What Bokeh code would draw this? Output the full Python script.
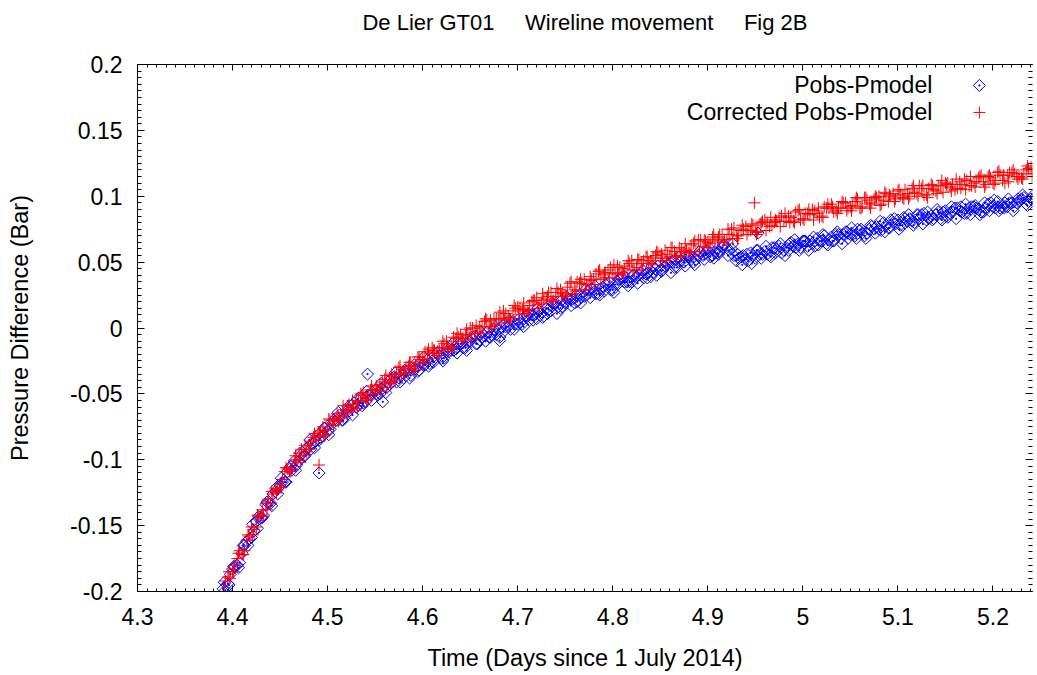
import math
from bokeh.plotting import figure
from bokeh.models import (LinearAxis, SingleIntervalTicker, NumeralTickFormatter, Range1d,
                          Label, CustomLabelingPolicy)
from bokeh.embed import file_html
from bokeh.resources import INLINE

# Sample times (days since 1 July 2014), first pass
time_days = [
    4.390, 4.395, 4.400, 4.405, 4.410, 4.415, 4.420, 4.425, 4.430, 4.435,
    4.440, 4.445, 4.450, 4.455, 4.460, 4.465, 4.470, 4.475, 4.480, 4.485,
    4.490, 4.495, 4.500, 4.505, 4.510, 4.515, 4.520, 4.525, 4.530, 4.535,
    4.540, 4.545, 4.550, 4.555, 4.560, 4.565, 4.570, 4.575, 4.580, 4.585,
    4.590, 4.595, 4.600, 4.605, 4.610, 4.615, 4.620, 4.625, 4.630, 4.635,
    4.640, 4.645, 4.650, 4.655, 4.660, 4.665, 4.670, 4.675, 4.680, 4.685,
    4.690, 4.695, 4.700, 4.705, 4.710, 4.715, 4.720, 4.725, 4.730, 4.735,
    4.740, 4.745, 4.750, 4.755, 4.760, 4.765, 4.770, 4.775, 4.780, 4.785,
    4.790, 4.795, 4.800, 4.805, 4.810, 4.815, 4.820, 4.825, 4.830, 4.835,
    4.840, 4.845, 4.850, 4.855, 4.860, 4.865, 4.870, 4.875, 4.880, 4.885,
    4.890, 4.895, 4.900, 4.905, 4.910, 4.915, 4.920, 4.925, 4.930, 4.935,
    4.940, 4.945, 4.950, 4.955, 4.960, 4.965, 4.970, 4.975, 4.980, 4.985,
    4.990, 4.995, 5.000, 5.005, 5.010, 5.015, 5.020, 5.025, 5.030, 5.035,
    5.040, 5.045, 5.050, 5.055, 5.060, 5.065, 5.070, 5.075, 5.080, 5.085,
    5.090, 5.095, 5.100, 5.105, 5.110, 5.115, 5.120, 5.125, 5.130, 5.135,
    5.140, 5.145, 5.150, 5.155, 5.160, 5.165, 5.170, 5.175, 5.180, 5.185,
    5.190, 5.195, 5.200, 5.205, 5.210, 5.215, 5.220, 5.225, 5.230, 5.235,
    5.240, 5.245,
]

# Pobs - Pmodel (bar) at time_days
pobs_minus_pmodel = [
    -0.198, -0.194, -0.183, -0.180, -0.171, -0.162, -0.159, -0.147, -0.144, -0.134,
    -0.133, -0.124, -0.120, -0.117, -0.107, -0.101, -0.101, -0.097, -0.090, -0.087,
    -0.081, -0.082, -0.078, -0.071, -0.070, -0.070, -0.063, -0.059, -0.060, -0.053,
    -0.056, -0.051, -0.047, -0.050, -0.044, -0.043, -0.037, -0.038, -0.038, -0.032,
    -0.031, -0.033, -0.028, -0.024, -0.025, -0.019, -0.023, -0.018, -0.017, -0.016,
    -0.012, -0.015, -0.010, -0.006, -0.009, -0.006, -0.007, -0.001, -0.001, -0.003,
    0.001, 0.005, 0.003, 0.003, 0.009, 0.010, 0.007, 0.011, 0.015, 0.013,
    0.019, 0.015, 0.019, 0.022, 0.019, 0.025, 0.024, 0.029, 0.027, 0.026,
    0.031, 0.033, 0.029, 0.033, 0.038, 0.035, 0.035, 0.039, 0.042, 0.041,
    0.039, 0.045, 0.044, 0.047, 0.050, 0.046, 0.050, 0.050, 0.054, 0.050,
    0.055, 0.055, 0.059, 0.055, 0.057, 0.061, 0.061, 0.060, 0.051, 0.054,
    0.052, 0.057, 0.053, 0.056, 0.058, 0.055, 0.061, 0.062, 0.059, 0.059,
    0.062, 0.064, 0.066, 0.062, 0.064, 0.068, 0.066, 0.064, 0.069, 0.071,
    0.068, 0.073, 0.071, 0.070, 0.074, 0.070, 0.075, 0.075, 0.075, 0.080,
    0.076, 0.080, 0.082, 0.078, 0.081, 0.081, 0.086, 0.086, 0.082, 0.085,
    0.086, 0.083, 0.089, 0.087, 0.091, 0.089, 0.087, 0.091, 0.092, 0.090,
    0.088, 0.094, 0.092, 0.096, 0.092, 0.092, 0.095, 0.095, 0.098, 0.094,
    0.098, 0.100,
]

# Corrected Pobs - Pmodel (bar) at time_days
corrected_pobs_minus_pmodel = [
    -0.201, -0.189, -0.185, -0.175, -0.172, -0.161, -0.151, -0.151, -0.142, -0.133,
    -0.133, -0.122, -0.119, -0.109, -0.109, -0.101, -0.095, -0.097, -0.089, -0.083,
    -0.083, -0.075, -0.077, -0.070, -0.065, -0.067, -0.062, -0.062, -0.055, -0.050,
    -0.053, -0.047, -0.050, -0.043, -0.039, -0.041, -0.037, -0.030, -0.034, -0.029,
    -0.031, -0.022, -0.024, -0.019, -0.015, -0.019, -0.015, -0.010, -0.014, -0.008,
    -0.005, -0.006, 0.000, -0.004, 0.001, 0.005, 0.000, 0.007, 0.007, 0.013,
    0.008, 0.013, 0.016, 0.014, 0.013, 0.020, 0.023, 0.019, 0.022, 0.027,
    0.024, 0.029, 0.025, 0.034, 0.029, 0.034, 0.037, 0.033, 0.037, 0.043,
    0.038, 0.044, 0.042, 0.047, 0.042, 0.047, 0.051, 0.046, 0.049, 0.054,
    0.051, 0.055, 0.051, 0.059, 0.054, 0.058, 0.061, 0.058, 0.057, 0.064,
    0.067, 0.062, 0.065, 0.069, 0.066, 0.071, 0.067, 0.075, 0.070, 0.074,
    0.077, 0.074, 0.073, 0.079, 0.082, 0.077, 0.080, 0.084, 0.081, 0.085,
    0.081, 0.089, 0.083, 0.087, 0.090, 0.087, 0.085, 0.091, 0.094, 0.089,
    0.091, 0.095, 0.092, 0.096, 0.091, 0.099, 0.094, 0.098, 0.100, 0.097,
    0.096, 0.102, 0.104, 0.099, 0.102, 0.106, 0.102, 0.106, 0.101, 0.109,
    0.104, 0.108, 0.110, 0.107, 0.105, 0.111, 0.113, 0.108, 0.110, 0.114,
    0.111, 0.115, 0.110, 0.118, 0.112, 0.116, 0.118, 0.115, 0.114, 0.120,
    0.122, 0.117,
]

# Second pass of readings
time_days_b = [
    4.3925, 4.3975, 4.4025, 4.4075, 4.4125, 4.4175, 4.4225, 4.4275, 4.4325, 4.4375,
    4.4425, 4.4475, 4.4525, 4.4575, 4.4625, 4.4675, 4.4725, 4.4775, 4.4825, 4.4875,
    4.4925, 4.4975, 4.5025, 4.5075, 4.5125, 4.5175, 4.5225, 4.5275, 4.5325, 4.5375,
    4.5425, 4.5475, 4.5525, 4.5575, 4.5625, 4.5675, 4.5725, 4.5775, 4.5825, 4.5875,
    4.5925, 4.5975, 4.6025, 4.6075, 4.6125, 4.6175, 4.6225, 4.6275, 4.6325, 4.6375,
    4.6425, 4.6475, 4.6525, 4.6575, 4.6625, 4.6675, 4.6725, 4.6775, 4.6825, 4.6875,
    4.6925, 4.6975, 4.7025, 4.7075, 4.7125, 4.7175, 4.7225, 4.7275, 4.7325, 4.7375,
    4.7425, 4.7475, 4.7525, 4.7575, 4.7625, 4.7675, 4.7725, 4.7775, 4.7825, 4.7875,
    4.7925, 4.7975, 4.8025, 4.8075, 4.8125, 4.8175, 4.8225, 4.8275, 4.8325, 4.8375,
    4.8425, 4.8475, 4.8525, 4.8575, 4.8625, 4.8675, 4.8725, 4.8775, 4.8825, 4.8875,
    4.8925, 4.8975, 4.9025, 4.9075, 4.9125, 4.9175, 4.9225, 4.9275, 4.9325, 4.9375,
    4.9425, 4.9475, 4.9525, 4.9575, 4.9625, 4.9675, 4.9725, 4.9775, 4.9825, 4.9875,
    4.9925, 4.9975, 5.0025, 5.0075, 5.0125, 5.0175, 5.0225, 5.0275, 5.0325, 5.0375,
    5.0425, 5.0475, 5.0525, 5.0575, 5.0625, 5.0675, 5.0725, 5.0775, 5.0825, 5.0875,
    5.0925, 5.0975, 5.1025, 5.1075, 5.1125, 5.1175, 5.1225, 5.1275, 5.1325, 5.1375,
    5.1425, 5.1475, 5.1525, 5.1575, 5.1625, 5.1675, 5.1725, 5.1775, 5.1825, 5.1875,
    5.1925, 5.1975, 5.2025, 5.2075, 5.2125, 5.2175, 5.2225, 5.2275, 5.2325, 5.2375,
    5.2425,
]

pobs_minus_pmodel_b = [
    -0.199, -0.187, -0.181, -0.178, -0.165, -0.160, -0.154, -0.143, -0.142, -0.133,
    -0.126, -0.126, -0.117, -0.109, -0.108, -0.104, -0.096, -0.092, -0.092, -0.086,
    -0.083, -0.076, -0.077, -0.071, -0.066, -0.068, -0.063, -0.057, -0.059, -0.057,
    -0.051, -0.049, -0.051, -0.046, -0.045, -0.038, -0.041, -0.036, -0.033, -0.036,
    -0.031, -0.026, -0.028, -0.027, -0.021, -0.021, -0.023, -0.018, -0.017, -0.012,
    -0.015, -0.011, -0.008, -0.012, -0.007, -0.003, -0.005, -0.005, 0.001, 0.001,
    -0.001, 0.003, 0.004, 0.009, 0.006, 0.010, 0.013, 0.009, 0.014, 0.018,
    0.016, 0.016, 0.022, 0.022, 0.020, 0.024, 0.025, 0.030, 0.026, 0.030,
    0.033, 0.029, 0.033, 0.037, 0.035, 0.035, 0.040, 0.040, 0.038, 0.042,
    0.042, 0.047, 0.044, 0.048, 0.050, 0.046, 0.051, 0.055, 0.052, 0.052,
    0.057, 0.057, 0.054, 0.058, 0.058, 0.063, 0.059, 0.055, 0.053, 0.055,
    0.051, 0.055, 0.059, 0.056, 0.056, 0.061, 0.060, 0.057, 0.061, 0.065,
    0.061, 0.061, 0.066, 0.066, 0.062, 0.066, 0.070, 0.067, 0.066, 0.071,
    0.071, 0.068, 0.071, 0.075, 0.072, 0.072, 0.077, 0.077, 0.074, 0.078,
    0.082, 0.079, 0.078, 0.083, 0.083, 0.080, 0.083, 0.087, 0.083, 0.083,
    0.088, 0.088, 0.084, 0.088, 0.091, 0.088, 0.087, 0.092, 0.091, 0.088,
    0.091, 0.095, 0.091, 0.091, 0.095, 0.095, 0.092, 0.096, 0.099, 0.096,
    0.096,
]

corrected_pobs_minus_pmodel_b = [
    -0.192, -0.190, -0.180, -0.169, -0.169, -0.158, -0.153, -0.143, -0.143, -0.130,
    -0.126, -0.123, -0.115, -0.107, -0.107, -0.100, -0.092, -0.094, -0.086, -0.085,
    -0.078, -0.081, -0.070, -0.069, -0.069, -0.064, -0.058, -0.060, -0.056, -0.049,
    -0.054, -0.047, -0.047, -0.041, -0.045, -0.035, -0.035, -0.035, -0.031, -0.026,
    -0.029, -0.024, -0.018, -0.023, -0.017, -0.017, -0.012, -0.016, -0.007, -0.007,
    -0.008, -0.005, 0.000, -0.003, 0.001, 0.006, 0.001, 0.007, 0.007, 0.011,
    0.007, 0.015, 0.015, 0.013, 0.017, 0.021, 0.018, 0.021, 0.027, 0.021,
    0.027, 0.026, 0.031, 0.026, 0.035, 0.034, 0.033, 0.036, 0.041, 0.037,
    0.041, 0.046, 0.041, 0.046, 0.045, 0.049, 0.044, 0.052, 0.051, 0.049,
    0.053, 0.057, 0.053, 0.056, 0.061, 0.055, 0.060, 0.059, 0.063, 0.058,
    0.067, 0.066, 0.064, 0.067, 0.071, 0.067, 0.071, 0.076, 0.070, 0.075,
    0.074, 0.078, 0.073, 0.081, 0.080, 0.078, 0.081, 0.085, 0.081, 0.084,
    0.088, 0.082, 0.087, 0.086, 0.089, 0.084, 0.092, 0.091, 0.088, 0.091,
    0.095, 0.091, 0.093, 0.098, 0.092, 0.097, 0.095, 0.099, 0.094, 0.102,
    0.100, 0.098, 0.101, 0.105, 0.100, 0.103, 0.108, 0.101, 0.106, 0.105,
    0.108, 0.103, 0.110, 0.109, 0.106, 0.109, 0.112, 0.108, 0.111, 0.116,
    0.109, 0.114, 0.112, 0.116, 0.110, 0.118, 0.117, 0.115, 0.117, 0.121,
    0.117,
]

# Third pass of readings
time_days_c = [
    4.39125, 4.39625, 4.40125, 4.40625, 4.41125, 4.41625, 4.42125, 4.42625, 4.43125, 4.43625,
    4.44125, 4.44625, 4.45125, 4.45625, 4.46125, 4.46625, 4.47125, 4.47625, 4.48125, 4.48625,
    4.49125, 4.49625, 4.50125, 4.50625, 4.51125, 4.51625, 4.52125, 4.52625, 4.53125, 4.53625,
    4.54125, 4.54625, 4.55125, 4.55625, 4.56125, 4.56625, 4.57125, 4.57625, 4.58125, 4.58625,
    4.59125, 4.59625, 4.60125, 4.60625, 4.61125, 4.61625, 4.62125, 4.62625, 4.63125, 4.63625,
    4.64125, 4.64625, 4.65125, 4.65625, 4.66125, 4.66625, 4.67125, 4.67625, 4.68125, 4.68625,
    4.69125, 4.69625, 4.70125, 4.70625, 4.71125, 4.71625, 4.72125, 4.72625, 4.73125, 4.73625,
    4.74125, 4.74625, 4.75125, 4.75625, 4.76125, 4.76625, 4.77125, 4.77625, 4.78125, 4.78625,
    4.79125, 4.79625, 4.80125, 4.80625, 4.81125, 4.81625, 4.82125, 4.82625, 4.83125, 4.83625,
    4.84125, 4.84625, 4.85125, 4.85625, 4.86125, 4.86625, 4.87125, 4.87625, 4.88125, 4.88625,
    4.89125, 4.89625, 4.90125, 4.90625, 4.91125, 4.91625, 4.92125, 4.92625, 4.93125, 4.93625,
    4.94125, 4.94625, 4.95125, 4.95625, 4.96125, 4.96625, 4.97125, 4.97625, 4.98125, 4.98625,
    4.99125, 4.99625, 5.00125, 5.00625, 5.01125, 5.01625, 5.02125, 5.02625, 5.03125, 5.03625,
    5.04125, 5.04625, 5.05125, 5.05625, 5.06125, 5.06625, 5.07125, 5.07625, 5.08125, 5.08625,
    5.09125, 5.09625, 5.10125, 5.10625, 5.11125, 5.11625, 5.12125, 5.12625, 5.13125, 5.13625,
    5.14125, 5.14625, 5.15125, 5.15625, 5.16125, 5.16625, 5.17125, 5.17625, 5.18125, 5.18625,
    5.19125, 5.19625, 5.20125, 5.20625, 5.21125, 5.21625, 5.22125, 5.22625, 5.23125, 5.23625,
    5.24125,
]

pobs_minus_pmodel_c = [
    -0.193, -0.195, -0.181, -0.182, -0.165, -0.165, -0.149, -0.152, -0.144, -0.132,
    -0.135, -0.121, -0.114, -0.117, -0.105, -0.108, -0.095, -0.097, -0.085, -0.091,
    -0.085, -0.076, -0.081, -0.070, -0.064, -0.070, -0.060, -0.066, -0.054, -0.059,
    -0.048, -0.055, -0.050, -0.042, -0.049, -0.039, -0.034, -0.041, -0.032, -0.038,
    -0.028, -0.032, -0.022, -0.029, -0.026, -0.018, -0.025, -0.015, -0.012, -0.019,
    -0.011, -0.017, -0.007, -0.012, -0.003, -0.010, -0.007, 0.001, -0.007, 0.003,
    0.006, -0.001, 0.007, 0.001, 0.011, 0.006, 0.015, 0.008, 0.011, 0.019,
    0.011, 0.021, 0.024, 0.017, 0.025, 0.019, 0.029, 0.023, 0.032, 0.025,
    0.028, 0.035, 0.027, 0.037, 0.040, 0.032, 0.040, 0.034, 0.044, 0.038,
    0.047, 0.040, 0.043, 0.050, 0.042, 0.052, 0.055, 0.047, 0.055, 0.048,
    0.058, 0.052, 0.061, 0.053, 0.056, 0.063, 0.055, 0.064, 0.056, 0.048,
    0.056, 0.049, 0.059, 0.053, 0.062, 0.054, 0.057, 0.064, 0.055, 0.064,
    0.067, 0.059, 0.066, 0.059, 0.069, 0.063, 0.071, 0.063, 0.066, 0.073,
    0.064, 0.073, 0.076, 0.068, 0.075, 0.068, 0.078, 0.072, 0.081, 0.073,
    0.076, 0.083, 0.075, 0.084, 0.086, 0.078, 0.086, 0.079, 0.088, 0.082,
    0.090, 0.082, 0.085, 0.092, 0.083, 0.092, 0.094, 0.086, 0.093, 0.086,
    0.095, 0.089, 0.097, 0.089, 0.091, 0.098, 0.089, 0.098, 0.101, 0.093,
    0.100,
]

corrected_pobs_minus_pmodel_c = [
    -0.201, -0.185, -0.185, -0.171, -0.172, -0.157, -0.157, -0.142, -0.138, -0.138,
    -0.124, -0.125, -0.121, -0.106, -0.109, -0.097, -0.102, -0.089, -0.092, -0.080,
    -0.079, -0.082, -0.069, -0.074, -0.071, -0.059, -0.064, -0.055, -0.061, -0.051,
    -0.055, -0.044, -0.044, -0.048, -0.036, -0.042, -0.040, -0.029, -0.035, -0.026,
    -0.032, -0.022, -0.027, -0.016, -0.017, -0.021, -0.010, -0.016, -0.015, -0.004,
    -0.010, -0.001, -0.009, 0.002, -0.004, 0.007, 0.006, 0.002, 0.012, 0.006,
    0.006, 0.017, 0.010, 0.019, 0.011, 0.021, 0.015, 0.026, 0.024, 0.020,
    0.030, 0.024, 0.024, 0.035, 0.028, 0.037, 0.029, 0.039, 0.033, 0.044,
    0.042, 0.038, 0.048, 0.041, 0.041, 0.051, 0.044, 0.052, 0.044, 0.054,
    0.048, 0.058, 0.056, 0.051, 0.061, 0.054, 0.054, 0.064, 0.057, 0.066,
    0.058, 0.067, 0.061, 0.071, 0.069, 0.065, 0.075, 0.068, 0.068, 0.078,
    0.071, 0.079, 0.071, 0.080, 0.074, 0.084, 0.082, 0.077, 0.087, 0.080,
    0.080, 0.090, 0.082, 0.090, 0.082, 0.091, 0.084, 0.094, 0.092, 0.087,
    0.096, 0.089, 0.089, 0.099, 0.091, 0.099, 0.091, 0.100, 0.093, 0.103,
    0.101, 0.096, 0.105, 0.098, 0.098, 0.108, 0.100, 0.108, 0.099, 0.108,
    0.102, 0.112, 0.109, 0.104, 0.113, 0.106, 0.105, 0.115, 0.107, 0.115,
    0.107, 0.116, 0.109, 0.119, 0.116, 0.111, 0.120, 0.113, 0.113, 0.123,
    0.115,
]

# Isolated readings away from the main trend
spike_time_obs = [4.491, 4.542, 4.558, 4.681, 4.953]
spike_obs = [-0.110, -0.035, -0.056, -0.0095, 0.072]
spike_time_corr = [4.491, 4.949, 4.951]
spike_corr = [-0.104, 0.095, 0.0725]

legend_labels = ["Pobs-Pmodel", "Corrected Pobs-Pmodel"]
title_text = "De Lier GT01\u00a0\u00a0\u00a0\u00a0 Wireline movement\u00a0\u00a0\u00a0\u00a0 Fig 2B"

FONT = "Liberation Sans"
BLUE = "#0000ff"
RED = "#ff0000"

p = figure(
    width=1037, height=675, output_backend="svg", toolbar_location=None,
    x_range=Range1d(4.3, 5.2416), y_range=Range1d(-0.2, 0.2),
    x_axis_location=None, y_axis_location=None,
    min_border_left=137, min_border_right=0, min_border_top=64, min_border_bottom=84,
)
p.outline_line_color = None
p.xgrid.visible = False
p.ygrid.visible = False
p.background_fill_color = "white"
p.border_fill_color = "white"

no_labels = CustomLabelingPolicy(code="return []")


def make_axis(ticker_interval, fmt, major_in, minor_in, show_labels, label=None,
              label_size="23.5px"):
    ax = LinearAxis(
        ticker=SingleIntervalTicker(interval=ticker_interval, num_minor_ticks=10),
        formatter=NumeralTickFormatter(format=fmt),
    )
    ax.major_tick_in = major_in
    ax.major_tick_out = 0
    ax.minor_tick_in = minor_in
    ax.minor_tick_out = 0
    ax.axis_line_color = "black"
    ax.major_tick_line_color = "black"
    ax.minor_tick_line_color = "black"
    if show_labels:
        ax.major_label_text_font = FONT
        ax.major_label_text_font_size = "23px"
        ax.major_label_text_color = "black"
    else:
        ax.major_label_policy = no_labels
        ax.major_label_text_font_size = "1px"
        ax.major_label_standoff = 0
    if label:
        ax.axis_label = label
        ax.axis_label_text_font = FONT
        ax.axis_label_text_font_size = label_size
        ax.axis_label_text_font_style = "normal"
        ax.axis_label_text_color = "black"
    return ax


xb = make_axis(0.1, "0.[0]", 6, 3, True, "Time (Days since 1 July 2014)")
xb.major_label_standoff = 16
xb.axis_label_standoff = 17
p.add_layout(xb, "below")

# Top border carries the heading of the chart
xt = make_axis(0.1, "0.[0]", 6, 3, False, title_text, label_size="22px")
xt.axis_label_standoff = 26
p.add_layout(xt, "above")

yl = make_axis(0.05, "0.[00]", 7, 4, True, "Pressure Difference (Bar)")
yl.major_label_standoff = 15
yl.axis_label_standoff = 34
p.add_layout(yl, "left")

yr = make_axis(0.05, "0.[00]", 7, 4, False)
yr.axis_line_color = None
p.add_layout(yr, "right")

diamond = dict(marker="square_dot", angle=math.pi / 4, size=8.5,
               fill_color=None, line_color=BLUE, line_width=1)
plus = dict(marker="cross", size=12, line_color=RED, line_width=1)

# Pobs - Pmodel: open diamonds with a centre dot
for t, v in ((time_days, pobs_minus_pmodel), (time_days_b, pobs_minus_pmodel_b),
             (time_days_c, pobs_minus_pmodel_c), (spike_time_obs, spike_obs)):
    p.scatter(t, v, **diamond)

# Corrected series: plus signs, drawn on top
for t, v in ((time_days, corrected_pobs_minus_pmodel),
             (time_days_b, corrected_pobs_minus_pmodel_b),
             (time_days_c, corrected_pobs_minus_pmodel_c),
             (spike_time_corr, spike_corr)):
    p.scatter(t, v, **plus)

# Key: text on the left, symbol on the right
key_y = [0.1841, 0.1636]
key_text_x = 5.1362
key_symbol_x = 5.1857
for lbl, ky in zip(legend_labels, key_y):
    p.add_layout(Label(x=key_text_x, y=ky, text=lbl, text_align="right",
                       text_baseline="middle", text_font=FONT,
                       text_font_size="23px", text_color="black"))
p.scatter([key_symbol_x], [key_y[0]], **diamond)
p.scatter([key_symbol_x], [key_y[1]], **plus)

open("out.html", "w").write(file_html(p, INLINE))
